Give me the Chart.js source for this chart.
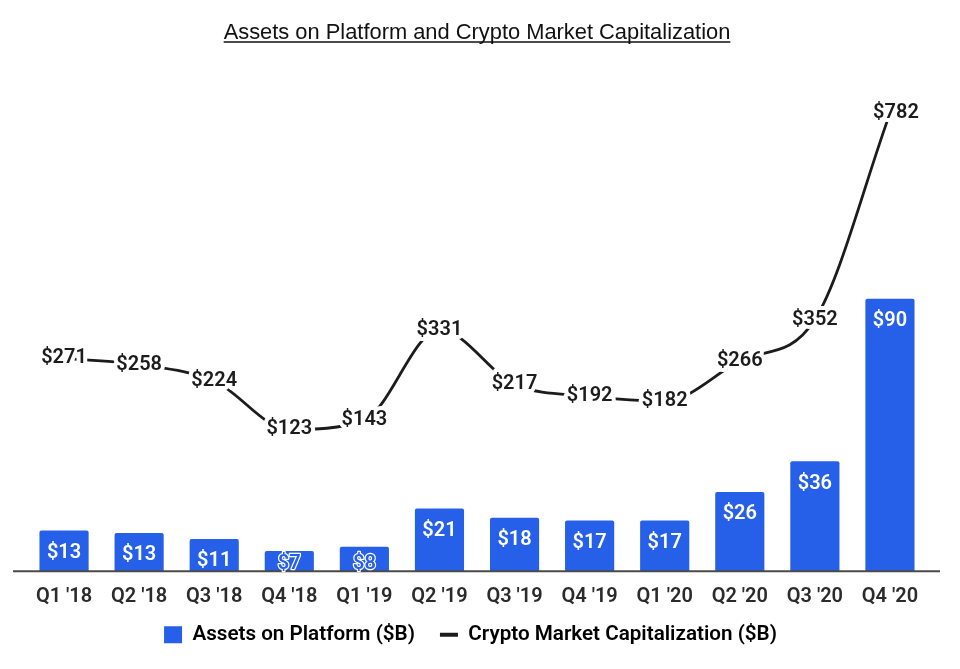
<!DOCTYPE html>
<html><head><meta charset="utf-8">
<style>html,body{margin:0;padding:0;background:#fff}canvas{display:block}</style>
<script src="https://cdn.jsdelivr.net/npm/chart.js@4"></script>
</head><body><canvas id="c" width="960" height="669"></canvas>
<script>
const categories = ["Q1 '18","Q2 '18","Q3 '18","Q4 '18","Q1 '19","Q2 '19","Q3 '19","Q4 '19","Q1 '20","Q2 '20","Q3 '20","Q4 '20"];
const assetsOnPlatform = [13.4,12.6,10.6,6.6,8,20.7,17.6,16.7,16.7,26.1,36.3,90];
const cryptoMarketCap = [271,258,224,123,143,331,217,192,182,266,352,782];
const titleText = "Assets on Platform and Crypto Market Capitalization";
const seriesNames = ["Assets on Platform ($B)","Crypto Market Capitalization ($B)"];
const BLUE = "#2660e8", INK = "#1c1c1c", TXT = "#2b2b2b";
const LABEL_FONT = "600 20px Roboto";

const overlay = {
  id:"overlay",
  afterLayout(chart){
    chart.legend.left -= 6.5; chart.legend.right -= 6.5;
    chart.scales.x.bottom += 30;
  },
  afterDraw(chart){
    const c = chart.ctx, a = chart.chartArea, base = chart.scales.y.getPixelForValue(0);
    c.save();
    c.strokeStyle = "#4a4a4a"; c.lineWidth = 2;
    c.beginPath(); c.moveTo(a.left-13.5, base); c.lineTo(a.right+12.5, base); c.stroke();

    c.font = LABEL_FONT; c.textAlign = "center"; c.textBaseline = "middle"; c.lineJoin = "round";
    chart.getDatasetMeta(0).data.forEach((el,i)=>{
      const t = "$"+Math.round(assetsOnPlatform[i]), h = base-el.y;
      const y = Math.min(el.y+22, base-7);
      if(h<30){
        c.strokeStyle="#fff"; c.lineWidth=2.4; c.strokeText(t,el.x,y);
        c.fillStyle=BLUE; c.fillText(t,el.x,y);
      } else { c.fillStyle="#fff"; c.fillText(t,el.x,y); }
    });
    chart.getDatasetMeta(1).data.forEach((el,i)=>{
      const t = "$"+cryptoMarketCap[i];
      const x = el.x + (i===cryptoMarketCap.length-1 ? 6 : 0);
      c.strokeStyle="#fff"; c.lineWidth=8; c.strokeText(t,x,el.y);
      c.fillStyle=INK; c.fillText(t,x,el.y);
    });

    const tb = chart.titleBlock, f = tb.options.font;
    c.font = f.size+"px "+f.family;
    const w = c.measureText(titleText).width, cx = tb.left+tb.width/2;
    c.strokeStyle="#111"; c.lineWidth=1.5;
    c.beginPath(); c.moveTo(cx-w/2, 42); c.lineTo(cx+w/2, 42); c.stroke();
    c.restore();
  }
};

new Chart(document.getElementById("c"),{
  type:"bar",
  data:{labels:categories,datasets:[
    {type:"bar",label:seriesNames[0],data:assetsOnPlatform,yAxisID:"y",backgroundColor:BLUE,
     barThickness:48.5,borderRadius:2,borderSkipped:"bottom",order:2},
    {type:"line",label:seriesNames[1],data:cryptoMarketCap,yAxisID:"y2",borderColor:INK,borderWidth:2.8,
     pointRadius:0,tension:0.4,cubicInterpolationMode:"monotone",fill:false,order:1}
  ]},
  options:{
    responsive:false,animation:false,devicePixelRatio:1,
    layout:{padding:{left:26.5,right:32.5,top:0,bottom:14}},
    scales:{
      x:{grid:{display:false},border:{display:false},afterFit(s){s.height-=16;},
         ticks:{color:TXT,font:{family:"Roboto",size:20,weight:"600"},maxRotation:0,autoSkip:false,padding:6}},
      y:{display:false,min:0,max:173.6},
      y2:{display:false,min:-172.9,max:922}
    },
    plugins:{
      title:{display:true,text:titleText,color:"#111",font:{family:"Liberation Sans",size:21.87,weight:"normal"},padding:{top:20,bottom:0}},
      legend:{position:"bottom",labels:{
        color:"#333",font:{family:"Roboto",size:20.65,weight:"600"},usePointStyle:true,pointStyleWidth:18,boxHeight:17,padding:25,
        generateLabels(){return [
          {text:seriesNames[0],fillStyle:BLUE,strokeStyle:BLUE,lineWidth:0,pointStyle:"rect",datasetIndex:0},
          {text:seriesNames[1],fillStyle:INK,strokeStyle:INK,lineWidth:4,pointStyle:"line",datasetIndex:1}
        ];}
      }},
      tooltip:{enabled:false}
    }
  },
  plugins:[overlay]
});
</script></body></html>
